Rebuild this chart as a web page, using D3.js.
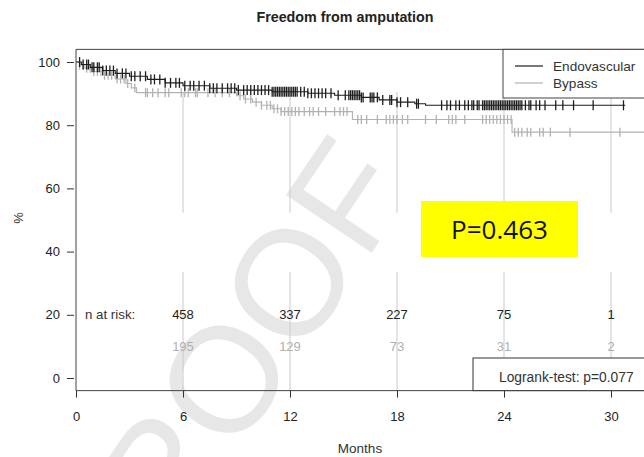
<!DOCTYPE html>
<html>
<head>
<meta charset="utf-8">
<script src="https://cdn.jsdelivr.net/npm/d3@7"></script>
<style>
  body { margin: 0; background: #fff; }
  svg { font-family: "Liberation Sans", Arial, sans-serif; }
  .axis text { font-size: 13px; fill: #222; }
  .axis line { stroke: #333; }
</style>
</head>
<body>
<svg width="644" height="457"></svg>
<script>
// Kaplan-Meier steps: [months, % free]
const endoSteps = [[0,100],[0.3,99.2],[0.8,98.3],[1.5,97.3],[2.2,96.4],[3.0,95.5],[4.0,94.5],[5.0,93.4],
  [6.0,92.5],[7.5,91.7],[9.0,91.1],[11.0,90.6],[13.0,90.1],[14.5,89.5],[16.0,88.8],[17.0,88.0],
  [18.0,87.3],[19.0,86.8],[19.6,86.3],[30.8,86.3]]
const bypassSteps = [[0,100],[0.2,99.0],[0.5,98.0],[1.0,97.0],[1.6,95.8],[2.2,94.6],[2.8,93.2],[3.1,91.8],
  [3.4,90.3],[9.0,89.3],[9.4,88.3],[9.9,87.3],[10.4,86.3],[11.0,85.2],[11.5,84.3],[15.5,81.8],
  [24.45,77.8],[32.5,77.8]]
// censored observations (months)
const endoCensor = [0.2,0.4,0.6,0.7,0.9,1.0,1.2,1.3,1.5,1.7,1.9,2.1,2.3,2.6,2.8,3.1,3.3,3.6,3.9,4.2,4.4,4.7,
  5.0,5.3,5.6,5.8,6.1,6.4,6.6,6.9,7.2,7.5,7.7,7.9,8.2,8.5,8.7,8.9,9.1,9.4,9.6,9.8,10.0,10.2,10.4,10.6,
  10.8,11.0,11.1,11.2,11.3,11.4,11.5,11.6,11.7,11.8,11.9,12.0,12.1,12.2,12.3,12.4,12.6,12.8,13.0,13.2,
  13.4,13.6,13.8,14.0,14.3,14.7,15.1,15.3,15.4,15.5,15.6,15.7,15.8,15.9,16.0,16.1,16.5,16.6,16.7,16.9,
  17.2,17.6,17.7,18.0,18.2,18.6,19.1,19.2,20.5,20.8,21.0,21.3,21.5,21.8,22.0,22.2,22.3,22.5,22.6,22.8,
  22.9,23.0,23.1,23.2,23.3,23.4,23.5,23.6,23.7,23.8,23.9,24.0,24.1,24.2,24.3,24.4,24.5,24.6,24.7,24.8,
  24.9,25.0,25.2,25.4,25.5,25.8,26.0,26.3,26.9,27.3,27.9,29.0,30.7]
const bypassCensor = [0.2,0.4,0.6,0.8,1.0,1.2,1.4,1.6,1.8,2.0,2.3,2.5,2.7,2.9,3.3,3.9,4.0,4.3,4.6,5.0,5.2,
  5.9,6.1,6.3,6.7,6.8,7.4,7.8,8.2,8.6,9.2,9.5,9.8,10.1,10.4,10.7,10.9,11.1,11.3,11.5,11.7,11.9,12.1,
  12.3,12.5,12.8,13.1,13.3,13.6,14.0,14.5,14.8,15.0,15.2,15.8,16.0,16.3,16.9,17.4,17.6,17.8,18.0,18.3,
  18.6,19.6,20.2,20.9,21.1,21.3,21.8,22.8,23.0,23.2,23.4,23.6,23.8,24.0,24.2,24.4,24.6,24.8,25.0,25.3,
  25.5,26.0,26.2,26.6,27.7,30.5]

const xTicks = [0, 6, 12, 18, 24, 30]
const yTicks = [0, 20, 40, 60, 80, 100]
const riskTimes = [6, 12, 18, 24, 30]
const riskEndo = [458, 337, 227, 75, 1]
const riskBypass = [195, 129, 73, 31, 2]
const groups = ['Endovascular', 'Bypass']

const black = '#1e1e1e', grey = '#b2b2b2'

let svg = d3.select('svg')
let x = d3.scaleLinear().domain([0, 30]).range([76, 611]),
    y = d3.scaleLinear().domain([0, 100]).range([378, 62])

// watermark
svg.append('text')
    .attr('transform', 'translate(222,378) rotate(-56)')
    .attr('text-anchor', 'middle')
    .attr('dy', '0.36em')
    .style('font-size', '150px')
    .style('fill', '#e7e7e7')
    .text('PROOF')

// grey reference lines at each at-risk time (broken around the p-value area)
riskTimes.forEach(t => {
    [[90.5, 52.3], [33.6, -4]].forEach(seg => {
        svg.append('line')
            .attr('x1', x(t)).attr('x2', x(t))
            .attr('y1', y(seg[0])).attr('y2', y(seg[1]))
            .attr('stroke', '#cacaca').attr('stroke-width', 1)
    })
})

// plot frame (left, top, bottom)
svg.append('path')
    .attr('d', `M${x(33)},${y(104)}H${x(0)}V${y(-4)}H${x(33)}`)
    .attr('fill', 'none').attr('stroke', '#444').attr('stroke-width', 1)

// axes
svg.append('g').attr('class', 'axis')
    .attr('transform', `translate(0,${y(-4)})`)
    .call(d3.axisBottom(x).tickValues(xTicks).tickSize(7).tickPadding(14))
    .call(g => g.select('.domain').remove())
svg.append('g').attr('class', 'axis')
    .attr('transform', 'translate(74,0)')
    .call(d3.axisLeft(y).tickValues(yTicks).tickSize(7).tickPadding(7))
    .call(g => g.select('.domain').remove())

// curves
let line = d3.line().x(d => x(d[0])).y(d => y(d[1])).curve(d3.curveStepAfter)
let survAt = (steps, t) => {
    let v = steps[0][1]
    steps.forEach(s => { if (s[0] <= t) v = s[1] })
    return v
}
function drawCurve(steps, censor, color, h) {
    svg.append('path').datum(steps)
        .attr('d', line).attr('fill', 'none')
        .attr('stroke', color).attr('stroke-width', 1.1)
    svg.selectAll(null).data(censor).enter().append('line')
        .attr('x1', d => x(d)).attr('x2', d => x(d))
        .attr('y1', d => y(survAt(steps, d)) - h)
        .attr('y2', d => y(survAt(steps, d)) + h)
        .attr('stroke', color).attr('stroke-width', 1.3)
}
drawCurve(bypassSteps, bypassCensor, grey, 4.5)
drawCurve(endoSteps, endoCensor, black, 5)

// legend
let lg = svg.append('g')
lg.append('rect').attr('x', 503).attr('y', y(104)).attr('width', 160).attr('height', 98 - y(104))
    .attr('fill', '#fff').attr('stroke', '#444')
groups.forEach((g, i) => {
    let ly = 66 + i * 17
    lg.append('line').attr('x1', 515).attr('x2', 543).attr('y1', ly).attr('y2', ly)
        .attr('stroke', i ? grey : black).attr('stroke-width', 1.2)
    lg.append('text').attr('x', 553).attr('y', ly).attr('dy', '0.35em')
        .style('font-size', '13.6px').style('fill', '#333').text(g)
})

// numbers at risk
svg.append('text').attr('x', 85).attr('y', y(20)).attr('dy', '0.35em')
    .style('font-size', '13.3px').style('fill', '#333').text('n at risk:')
svg.selectAll('.riskE').data(riskTimes).enter().append('text')
    .attr('x', d => x(d)).attr('y', y(20)).attr('dy', '0.35em')
    .attr('text-anchor', 'middle').style('font-size', '13px').style('fill', '#222')
    .text((d, i) => riskEndo[i])
svg.selectAll('.riskB').data(riskTimes).enter().append('text')
    .attr('x', d => x(d)).attr('y', y(10)).attr('dy', '0.35em')
    .attr('text-anchor', 'middle').style('font-size', '13px').style('fill', '#b0b0b0')
    .text((d, i) => riskBypass[i])

// logrank box
svg.append('rect').attr('x', 473).attr('y', 358).attr('width', 200).attr('height', y(-4) - 358)
    .attr('fill', '#fff').attr('stroke', '#333')
svg.append('text').attr('x', 499).attr('y', 377).attr('dy', '0.35em')
    .style('font-size', '13.8px').style('fill', '#333').text('Logrank-test: p=0.077')

// highlighted p-value
svg.append('rect').attr('x', 421).attr('y', 201).attr('width', 157).attr('height', 56).attr('fill', '#ffff00')
svg.append('text').attr('x', 499.5).attr('y', 230).attr('dy', '0.36em').attr('text-anchor', 'middle')
    .style('font-family', '"Open Sans", sans-serif').style('font-size', '26px').style('fill', '#111')
    .text('P=0.463')

// titles
svg.append('text').attr('x', 345).attr('y', 17).attr('dy', '0.35em').attr('text-anchor', 'middle')
    .style('font-size', '14.3px').style('font-weight', 'bold').style('fill', '#222')
    .text('Freedom from amputation')
svg.append('text').attr('x', 360).attr('y', 448).attr('dy', '0.35em').attr('text-anchor', 'middle')
    .style('font-size', '13.5px').style('fill', '#333').text('Months')
svg.append('text').attr('transform', 'translate(18,218) rotate(-90)').attr('dy', '0.35em')
    .attr('text-anchor', 'middle').style('font-size', '13px').style('fill', '#333').text('%')
</script>
</body>
</html>
